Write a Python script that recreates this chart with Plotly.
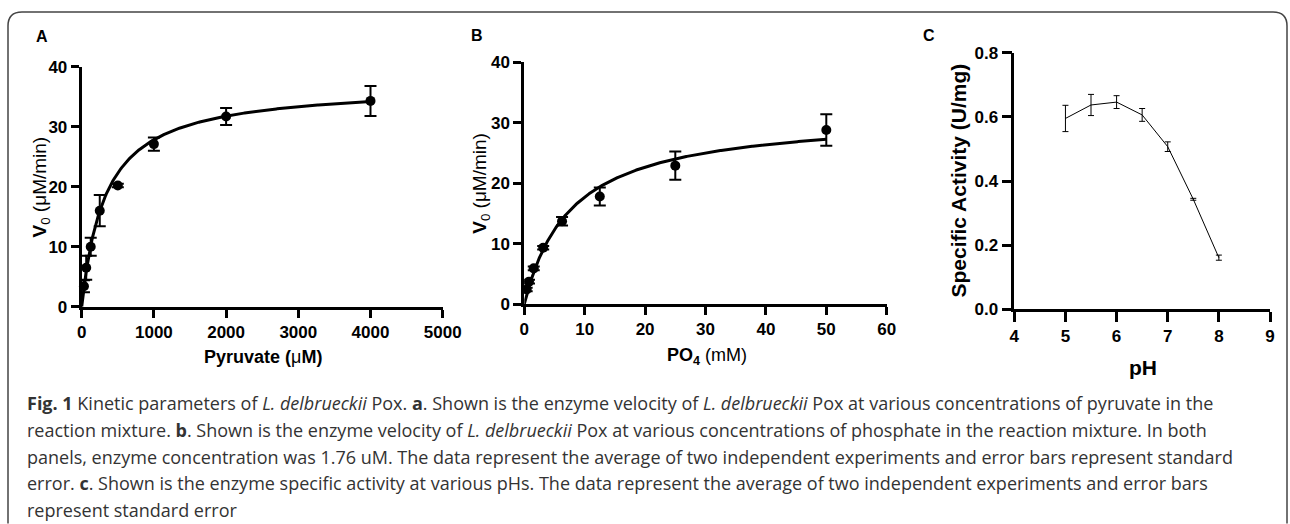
import numpy as np
import plotly.graph_objects as go

W, H = 1290, 524

# ---------------- data ----------------
# Panel A: pyruvate kinetics
pyruvate_uM = [31.25, 62.5, 125, 250, 500, 1000, 2000, 4000]
vA = [3.4, 6.5, 10.0, 16.0, 20.2, 27.1, 31.7, 34.3]
vA_err = [1.0, 2.0, 1.5, 2.6, 0.3, 1.1, 1.4, 2.5]
fitA_Vmax, fitA_Km = 37.0, 330.0

# Panel B: phosphate kinetics
po4_mM = [0.39, 0.78, 1.5625, 3.125, 6.25, 12.5, 25, 50]
vB = [2.4, 3.7, 5.9, 9.3, 13.7, 17.8, 22.9, 28.8]
vB_err = [0.3, 0.3, 0.3, 0.3, 0.7, 1.5, 2.35, 2.6]
fitB_Vmax, fitB_Km = 31.5, 7.8

# Panel C: pH profile
pH = [5, 5.5, 6, 6.5, 7, 7.5, 8]
activity = [0.595, 0.637, 0.646, 0.606, 0.507, 0.343, 0.161]
activity_err = [0.041, 0.033, 0.020, 0.020, 0.015, 0.003, 0.008]

xA_ticks = [0, 1000, 2000, 3000, 4000, 5000]
yA_ticks = [0, 10, 20, 30, 40]
xB_ticks = [0, 10, 20, 30, 40, 50, 60]
yB_ticks = [0, 10, 20, 30, 40]
xC_ticks = [4, 5, 6, 7, 8, 9]
yC_ticks = [0.0, 0.2, 0.4, 0.6, 0.8]

caption_lines = [
    "<b>Fig. 1</b> Kinetic parameters of <i>L. delbrueckii</i> Pox. <b>a</b>. Shown is the enzyme velocity of <i>L. delbrueckii</i> Pox at various concentrations of pyruvate in the",
    "reaction mixture. <b>b</b>. Shown is the enzyme velocity of <i>L. delbrueckii</i> Pox at various concentrations of phosphate in the reaction mixture. In both",
    "panels, enzyme concentration was 1.76 uM. The data represent the average of two independent experiments and error bars represent standard",
    "error. <b>c</b>. Shown is the enzyme specific activity at various pHs. The data represent the average of two independent experiments and error bars",
    "represent standard error",
]


def px(x):
    return x / W


def py(y):
    return 1 - y / H


# Michaelis-Menten fit curves (model evaluated on a grid)
sA = np.linspace(0, max(pyruvate_uM), 400)
fitA = fitA_Vmax * sA / (fitA_Km + sA)
sB = np.linspace(0, max(po4_mM), 400)
fitB = fitB_Vmax * sB / (fitB_Km + sB)

fig = go.Figure()

# Panel A
fig.add_trace(go.Scatter(x=sA, y=fitA, mode="lines", line=dict(color="black", width=3),
                         xaxis="x", yaxis="y", cliponaxis=False, hoverinfo="skip"))
fig.add_trace(go.Scatter(x=pyruvate_uM, y=vA, mode="markers",
                         marker=dict(color="black", size=10),
                         error_y=dict(type="data", array=vA_err, color="black", thickness=2, width=6),
                         xaxis="x", yaxis="y", cliponaxis=False))
# Panel B
fig.add_trace(go.Scatter(x=sB, y=fitB, mode="lines", line=dict(color="black", width=3),
                         xaxis="x2", yaxis="y2", cliponaxis=False, hoverinfo="skip"))
fig.add_trace(go.Scatter(x=po4_mM, y=vB, mode="markers",
                         marker=dict(color="black", size=10),
                         error_y=dict(type="data", array=vB_err, color="black", thickness=2, width=6),
                         xaxis="x2", yaxis="y2", cliponaxis=False))
# Panel C
fig.add_trace(go.Scatter(x=pH, y=activity, mode="lines",
                         line=dict(color="black", width=1),
                         error_y=dict(type="data", array=activity_err, color="black", thickness=1, width=3),
                         xaxis="x3", yaxis="y3", cliponaxis=False))

FAM = "Liberation Sans, Arial, sans-serif"
tickfont = dict(family=FAM, size=17, color="black", weight="bold")


def ax(domain, rng, ticks, anchor, lw=3, tl=8, fmt=None):
    d = dict(domain=domain, range=rng, tickvals=ticks, anchor=anchor,
             showline=True, linewidth=lw, linecolor="black", ticks="outside",
             tickwidth=lw, ticklen=tl, tickcolor="black", showgrid=False,
             zeroline=False, tickfont=tickfont, fixedrange=True, automargin=False)
    if fmt:
        d["tickformat"] = fmt
    return d


fig.update_layout(
    width=W, height=H, autosize=False,
    margin=dict(l=0, r=0, t=0, b=0, pad=0, autoexpand=False),
    paper_bgcolor="white", plot_bgcolor="rgba(0,0,0,0)",
    showlegend=False,
    xaxis=ax([px(81.7), px(442.7)], [0, 5000], xA_ticks, "y"),
    yaxis=ax([py(306.7), py(66.7)], [0, 40], yA_ticks, "x"),
    xaxis2=ax([px(524.3), px(886.7)], [0, 60], xB_ticks, "y2"),
    yaxis2=ax([py(304), py(62.3)], [0, 40], yB_ticks, "x2"),
    xaxis3=ax([px(1014.3), px(1270)], [4, 9], xC_ticks, "y3", lw=2.5, tl=10),
    yaxis3=ax([py(309.3), py(52.7)], [0, 0.8], yC_ticks, "x3", lw=2.5, tl=10, fmt=".1f"),
)

annots = []


def add_text(text, x, y, size, angle=0, bold=False, xanchor="center", family=FAM, color="black"):
    f = dict(family=family, size=size, color=color)
    if bold:
        f["weight"] = "bold"
    annots.append(dict(text=text, x=px(x), y=py(y), xref="paper", yref="paper",
                       showarrow=False, textangle=angle, font=f,
                       xanchor=xanchor, yanchor="middle"))


# panel letters
add_text("A", 41.7, 36, 16, bold=True)
add_text("B", 476.7, 35, 16, bold=True)
add_text("C", 929, 35, 16, bold=True)

# axis titles
add_text("<b>Pyruvate (</b>μ<b>M)</b>", 263, 356.7, 18)
add_text("<b>V</b><sub>0</sub> (μM/min)", 40.8, 186.7, 19, angle=-90)
add_text("<b>PO<sub>4</sub></b> (mM)", 706.7, 356.7, 18)
add_text("<b>V</b><sub>0</sub> (μM/min)", 480.8, 183, 19, angle=-90)
add_text("pH", 1142.7, 367.3, 21, bold=True)
add_text("Specific Activity (U/mg)", 957.5, 181, 21, angle=-90, bold=True)

# caption
cap_y = [403, 430, 456.7, 483.3, 510]
for line, yy in zip(caption_lines, cap_y):
    add_text(line, 25, yy, 18, xanchor="left", family="Open Sans, sans-serif", color="#333333")

fig.update_layout(annotations=annots)

# rounded border (open at the bottom)
x0, x1, yt, yb, r = 8, 1287, 12, 523.5, 14
path = (f"M {px(x0)},{py(yb)} L {px(x0)},{py(yt + r)} "
        f"Q {px(x0)},{py(yt)} {px(x0 + r)},{py(yt)} "
        f"L {px(x1 - r)},{py(yt)} Q {px(x1)},{py(yt)} {px(x1)},{py(yt + r)} "
        f"L {px(x1)},{py(yb)}")
fig.add_shape(type="path", path=path, xref="paper", yref="paper",
              line=dict(color="#444444", width=1.5))

fig.write_html(
    "out.html",
    config={"displayModeBar": False},
    post_script=("document.body.style.margin='0';"
                 "document.body.style.overflow='hidden';"
                 "document.documentElement.style.overflow='hidden';"),
)
